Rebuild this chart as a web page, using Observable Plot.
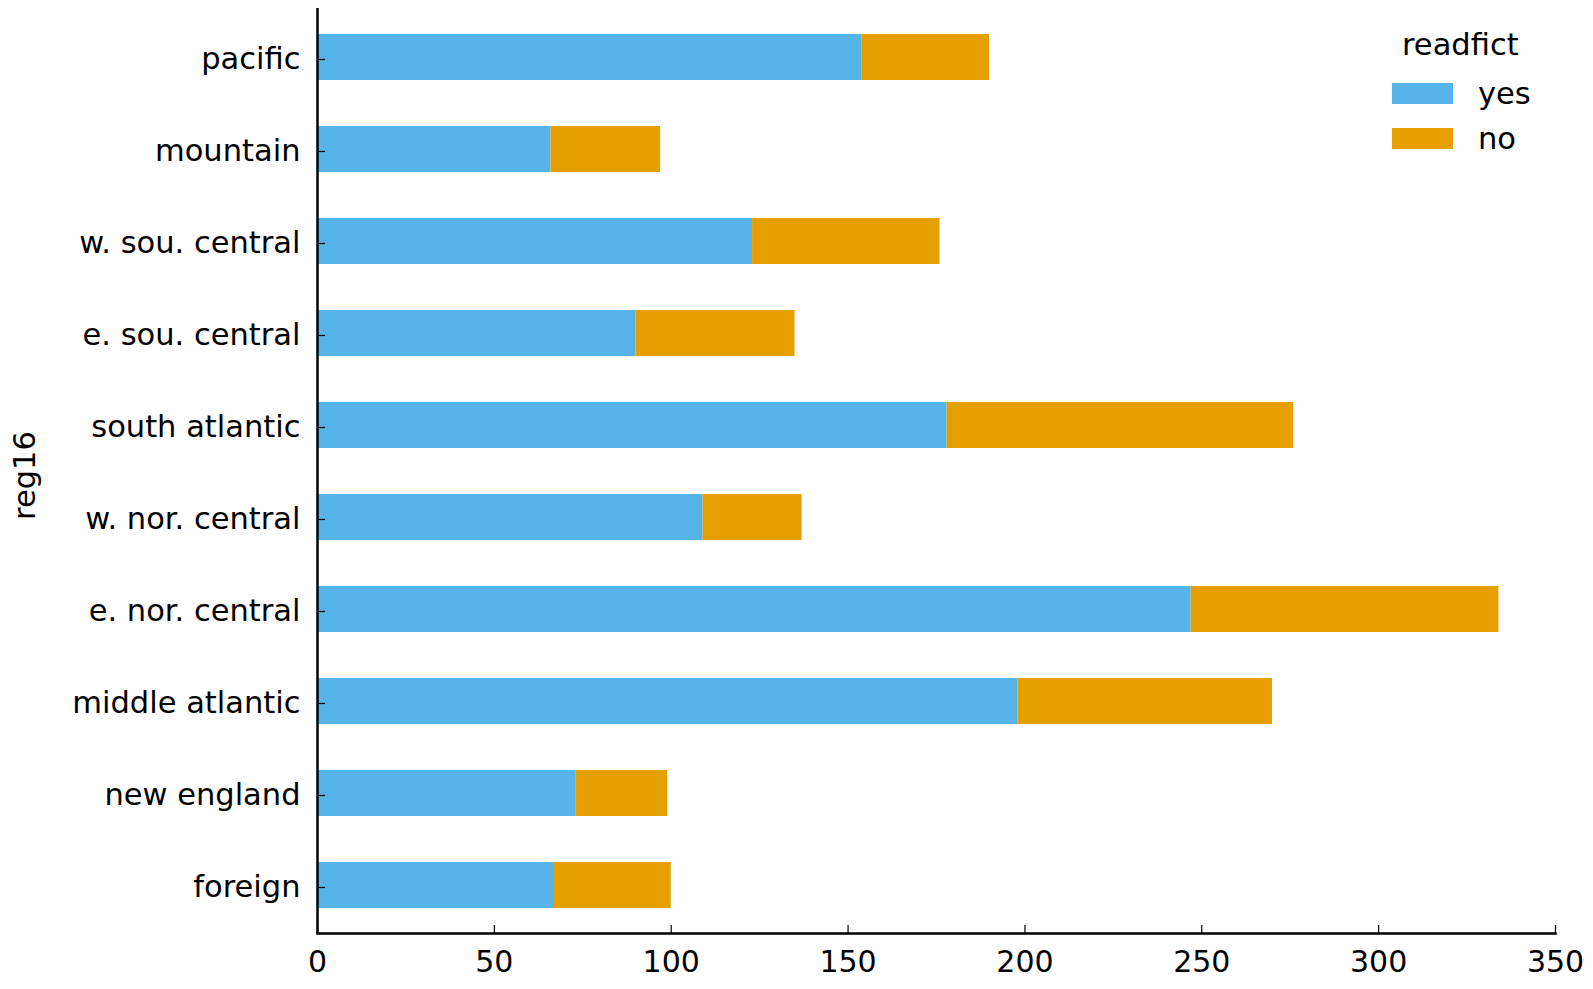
<!DOCTYPE html>
<html>
<head>
<meta charset="utf-8">
<script src="https://cdn.jsdelivr.net/npm/d3@7"></script>
<script src="https://cdn.jsdelivr.net/npm/@observablehq/plot@0.6"></script>
<style>
  html, body { margin: 0; padding: 0; background: #fff; }
  #wrap { position: relative; width: 1593px; height: 989px; font-family: "DejaVu Sans", sans-serif; }
  #legend { position: absolute; left: 1380px; top: 27px; font-size: 30.5px; color: #000; }
  #legend .title { position: absolute; left: 22px; top: 0; white-space: nowrap; }
  #legend .row { position: absolute; left: 12px; white-space: nowrap; }
  #legend .sw { position: absolute; left: 0; width: 61px; height: 21px; }
  #legend .lab { position: absolute; left: 86px; line-height: 1; }
</style>
</head>
<body>
<div id="wrap"></div>
<script>
const regions = ["pacific", "mountain", "w. sou. central", "e. sou. central", "south atlantic",
                 "w. nor. central", "e. nor. central", "middle atlantic", "new england", "foreign"];
const yesCounts = [154, 66, 123, 90, 178, 109, 247, 198, 73, 67];
const noCounts  = [36, 31, 53, 45, 98, 28, 87, 72, 26, 33];
const seriesNames = ["yes", "no"];
const seriesColors = ["#56B4E9", "#E69F00"];
const xTicks = [0, 50, 100, 150, 200, 250, 300, 350];
const axisLabel = "reg16";
const legendTitle = "readfict";

const data = [];
regions.forEach((r, i) => {
  data.push({region: r, readfict: "yes", count: yesCounts[i]});
  data.push({region: r, readfict: "no", count: noCounts[i]});
});

const chart = Plot.plot({
  width: 1593,
  height: 989,
  marginLeft: 317,
  marginRight: 38,
  marginTop: 8,
  marginBottom: 56,
  style: {fontFamily: "DejaVu Sans, sans-serif", fontSize: "30.5px", color: "#000", background: "#fff"},
  x: {domain: [0, 350], ticks: xTicks},
  y: {domain: regions, paddingInner: 0.5, paddingOuter: 0.25},
  color: {domain: seriesNames, range: seriesColors},
  marks: [
    Plot.barX(data, Plot.stackX({x: "count", y: "region", fill: "readfict", order: null})),
    Plot.axisX({ticks: xTicks, tickSize: -8, tickPadding: 25.5, label: null, stroke: "#000", strokeWidth: 1.2, fontSize: 30}),
    Plot.axisY({tickSize: -8, tickPadding: 25, dy: 2, label: null, stroke: "#000", strokeWidth: 1.2, fontSize: 30.5}),
    Plot.ruleX([0], {stroke: "#000", strokeWidth: 2.5}),
    Plot.frame({anchor: "bottom", stroke: "#000", strokeWidth: 2.5}),
    Plot.text([axisLabel], {frameAnchor: "left", textAnchor: "middle", rotate: -90, dx: -292, dy: 4.5, fontSize: 30.5, fill: "#000"})
  ]
});

const wrap = document.getElementById("wrap");
wrap.appendChild(chart);

const legend = document.createElement("div");
legend.id = "legend";
let html = `<div class="title">${legendTitle}</div>`;
seriesNames.forEach((s, i) => {
  const top = 56 + i * 45;
  html += `<div class="row" style="top:${top}px"><div class="sw" style="background:${seriesColors[i]}"></div><div class="lab" style="top:-4px">${s}</div></div>`;
});
legend.innerHTML = html;
wrap.appendChild(legend);
</script>
</body>
</html>
